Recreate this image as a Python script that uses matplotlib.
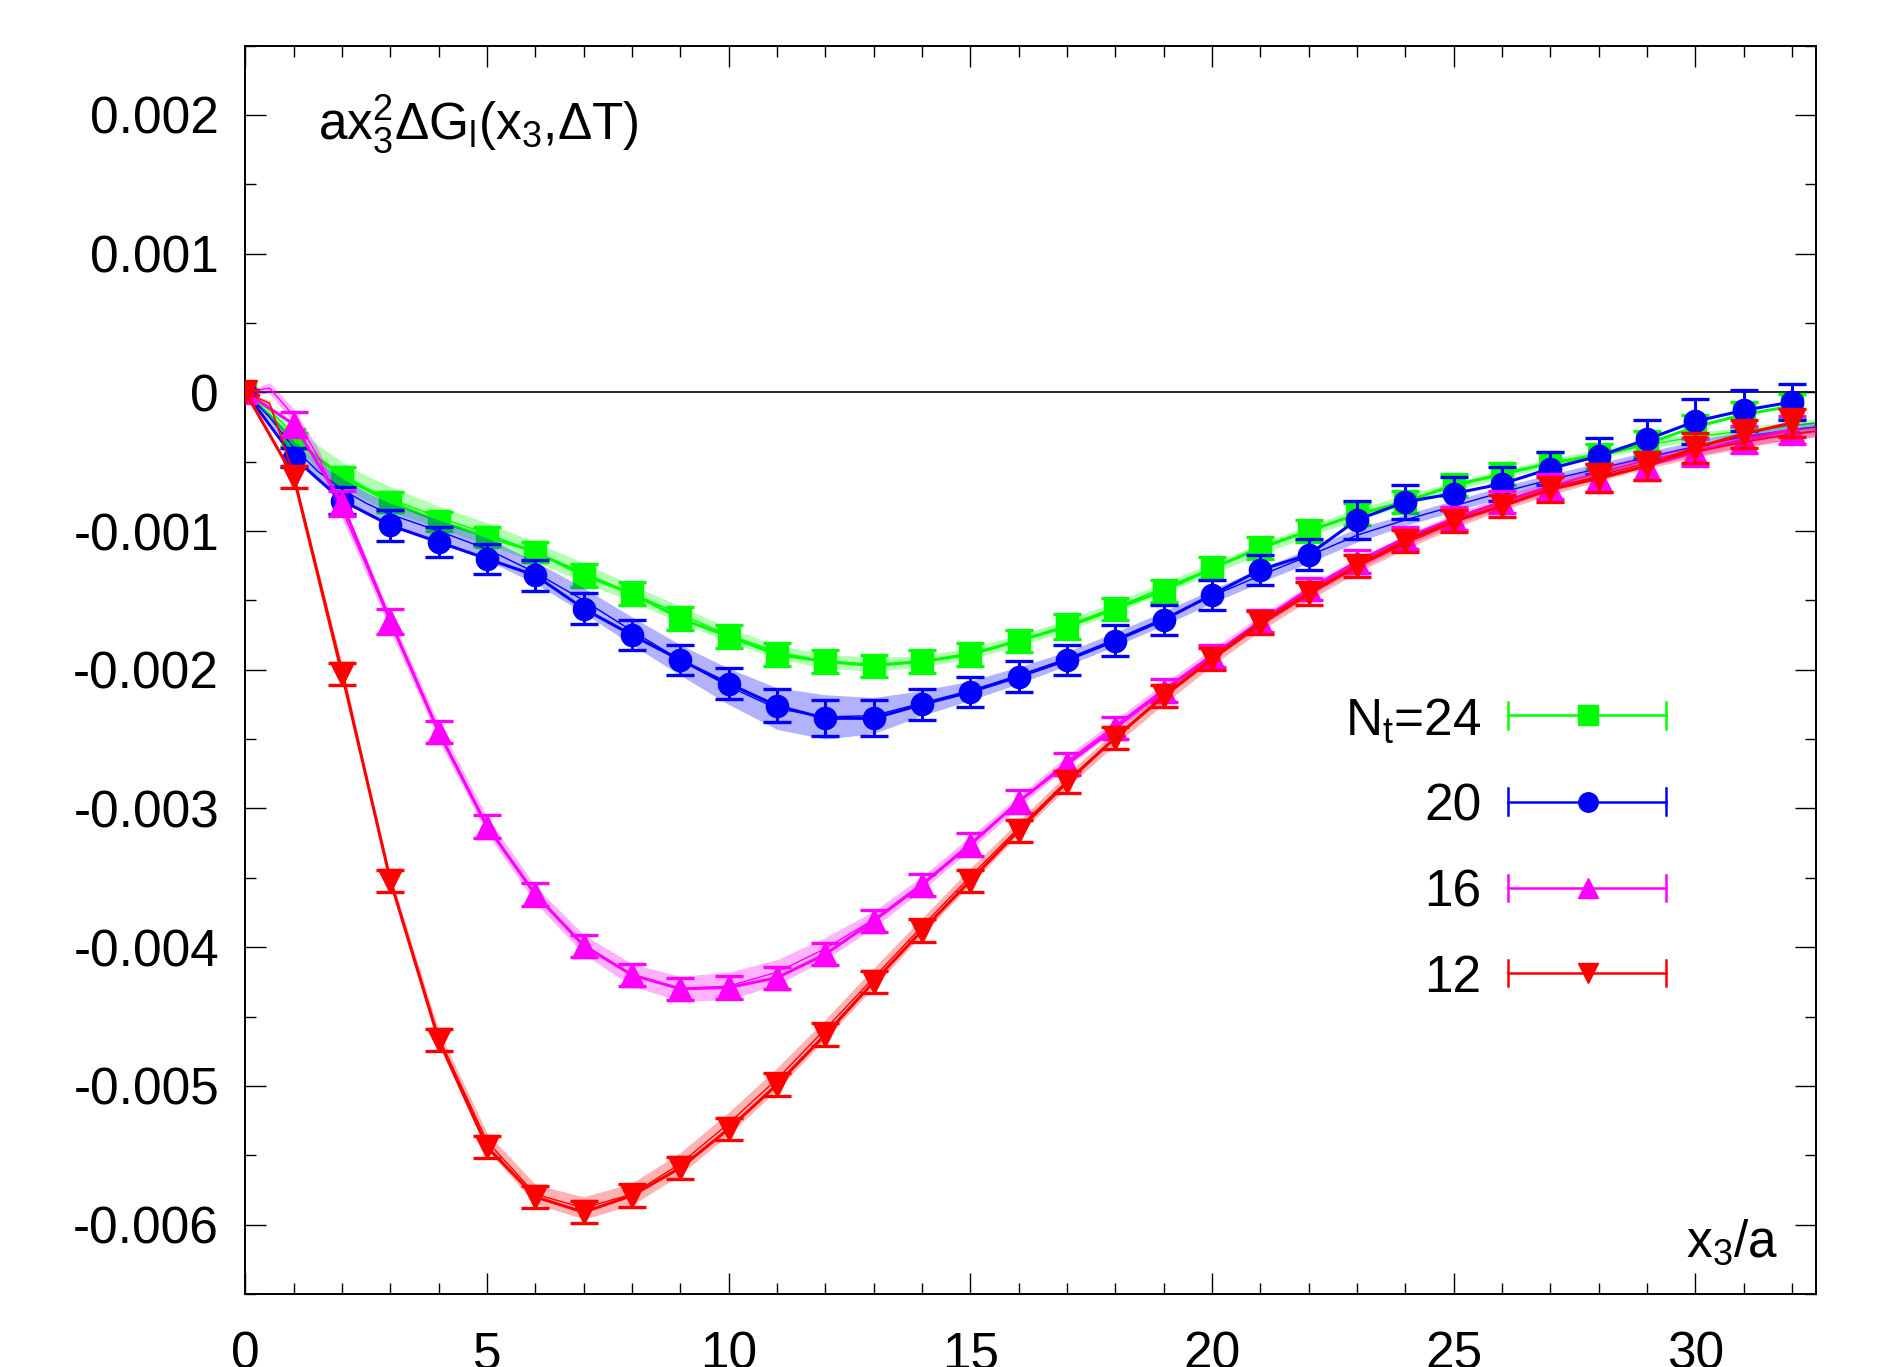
import numpy as np
import matplotlib
matplotlib.use('Agg')
import matplotlib.pyplot as plt
from matplotlib.ticker import MultipleLocator, FuncFormatter

plt.rcParams['font.family'] = ['Liberation Sans', 'DejaVu Sans']
plt.rcParams['mathtext.fontset'] = 'custom'
plt.rcParams['mathtext.rm'] = 'Liberation Sans'
plt.rcParams['mathtext.it'] = 'Liberation Sans'
plt.rcParams['mathtext.bf'] = 'Liberation Sans:bold'
plt.rcParams['axes.unicode_minus'] = False

# ---------------- data ----------------
x3 = list(range(33))

g24 = [0, -0.00034, -0.00061, -0.00079, -0.00093, -0.00104, -0.00115, -0.00132, -0.00145,
       -0.00163, -0.00176, -0.00189, -0.00194, -0.00197, -0.00194, -0.00189, -0.00179,
       -0.00169, -0.00156, -0.00143, -0.00127, -0.00112, -0.00100, -0.00088, -0.00079,
       -0.00067, -0.00059, -0.00051, -0.00046, -0.00037, -0.00025, -0.00016, -0.00010]
e24 = [0.00002, 0.00005, 0.00007, 0.00007, 0.00007, 0.00007, 0.00007, 0.00008, 0.00008,
       0.00008, 0.00008, 0.00008, 0.00008, 0.00008, 0.00008, 0.00008, 0.00008, 0.00009,
       0.00008, 0.00008, 0.00008, 0.00008, 0.00008, 0.00008, 0.00008, 0.00008, 0.00008,
       0.00008, 0.00009, 0.00009, 0.00009, 0.00009, 0.00009]

g20 = [0, -0.00047, -0.00078, -0.00096, -0.00108, -0.00120, -0.00132, -0.00156, -0.00175,
       -0.00193, -0.00210, -0.00226, -0.00235, -0.00235, -0.00225, -0.00216, -0.00205,
       -0.00193, -0.00179, -0.00164, -0.00146, -0.00128, -0.00117, -0.00092, -0.00079,
       -0.00073, -0.00066, -0.00055, -0.00046, -0.00034, -0.00021, -0.00013, -0.00007]
e20 = [0.00002, 0.00007, 0.00010, 0.00011, 0.00011, 0.00011, 0.00011, 0.00011, 0.00011,
       0.00011, 0.00011, 0.00012, 0.00013, 0.00013, 0.00011, 0.00011, 0.00011, 0.00011,
       0.00011, 0.00011, 0.00011, 0.00011, 0.00011, 0.00014, 0.00012, 0.00012, 0.00012,
       0.00012, 0.00013, 0.00014, 0.00016, 0.00015, 0.00013]

g16 = [0, -0.00023, -0.00080, -0.00165, -0.00245, -0.00313, -0.00362, -0.00399, -0.00420,
       -0.00430, -0.00429, -0.00422, -0.00405, -0.00381, -0.00355, -0.00326, -0.00295,
       -0.00268, -0.00242, -0.00215, -0.00190, -0.00165, -0.00142, -0.00122, -0.00105,
       -0.00091, -0.00079, -0.00068, -0.00062, -0.00053, -0.00043, -0.00034, -0.00027]
e16 = [0.00002, 0.00009, 0.00009, 0.00009, 0.00008, 0.00008, 0.00008, 0.00008, 0.00008,
       0.00008, 0.00008, 0.00008, 0.00008, 0.00008, 0.00008, 0.00008, 0.00008, 0.00008,
       0.00008, 0.00008, 0.00008, 0.00008, 0.00008, 0.00008, 0.00008, 0.00008, 0.00008,
       0.00009, 0.00010, 0.00010, 0.00010, 0.00010, 0.00010]

g12 = [0, -0.00061, -0.00203, -0.00352, -0.00467, -0.00544, -0.00580, -0.00591, -0.00579,
       -0.00559, -0.00531, -0.00499, -0.00463, -0.00425, -0.00388, -0.00352, -0.00316,
       -0.00281, -0.00249, -0.00219, -0.00192, -0.00166, -0.00145, -0.00125, -0.00107,
       -0.00093, -0.00082, -0.00070, -0.00062, -0.00053, -0.00040, -0.00030, -0.00022]
e12 = [0.00002, 0.00008, 0.00008, 0.00008, 0.00008, 0.00008, 0.00008, 0.00008, 0.00008,
       0.00008, 0.00008, 0.00008, 0.00008, 0.00008, 0.00008, 0.00008, 0.00008, 0.00008,
       0.00008, 0.00008, 0.00008, 0.00008, 0.00008, 0.00008, 0.00008, 0.00008, 0.00008,
       0.00009, 0.00010, 0.00010, 0.00011, 0.00010, 0.00010]

# fit bands (centre and half-width)
fit_x = [0, 0.5, 1, 1.5, 2, 2.5, 3, 4, 5, 6, 7, 8, 9, 10, 11, 12, 13, 14, 15, 16, 17, 18,
         19, 20, 21, 22, 23, 24, 25, 26, 27, 28, 29, 30, 31, 32, 32.5]

f24 = [0, -0.00013, -0.00030, -0.00047, -0.00059, -0.00069, -0.00077, -0.00090, -0.00102,
       -0.00115, -0.00130, -0.00145, -0.00160, -0.00175, -0.00187, -0.00194, -0.00196,
       -0.00194, -0.00188, -0.00179, -0.00168, -0.00155, -0.00141, -0.00127, -0.00113,
       -0.00100, -0.00088, -0.00078, -0.00068, -0.00059, -0.00051, -0.00044, -0.00038,
       -0.00032, -0.00028, -0.00024, -0.00022]
w24 = [0, 0.00003, 0.00006, 0.00009, 0.00009, 0.00009, 0.00009, 0.00008, 0.00008, 0.00007,
       0.00007, 0.00006, 0.00006, 0.00005, 0.00005, 0.00005, 0.00005, 0.00004, 0.00004,
       0.00004, 0.00004, 0.00004, 0.00004, 0.00004, 0.00004, 0.00004, 0.00004, 0.00004,
       0.00003, 0.00003, 0.00003, 0.00003, 0.00003, 0.00003, 0.00003, 0.00003, 0.00003]

f20 = [0, -0.00018, -0.00040, -0.00057, -0.00070, -0.00080, -0.00088, -0.00100, -0.00113,
       -0.00130, -0.00150, -0.00172, -0.00193, -0.00212, -0.00228, -0.00234, -0.00233,
       -0.00224, -0.00215, -0.00204, -0.00192, -0.00178, -0.00163, -0.00147, -0.00132,
       -0.00118, -0.00103, -0.00092, -0.00082, -0.00072, -0.00063, -0.00055, -0.00047,
       -0.00039, -0.00032, -0.00027, -0.00025]
w20 = [0, 0.00003, 0.00005, 0.00007, 0.00008, 0.00008, 0.00008, 0.00008, 0.00008, 0.00008,
       0.00009, 0.00010, 0.00011, 0.00013, 0.00015, 0.00016, 0.00013, 0.00009, 0.00007,
       0.00006, 0.00005, 0.00005, 0.00005, 0.00005, 0.00005, 0.00005, 0.00005, 0.00004,
       0.00004, 0.00004, 0.00004, 0.00004, 0.00004, 0.00004, 0.00004, 0.00004, 0.00004]

f16 = [0, 0.00003, -0.00017, -0.00046, -0.00085, -0.00125, -0.00166, -0.00245, -0.00312,
       -0.00362, -0.00398, -0.00420, -0.00430, -0.00428, -0.00418, -0.00401, -0.00380,
       -0.00354, -0.00325, -0.00295, -0.00266, -0.00240, -0.00214, -0.00189, -0.00165,
       -0.00143, -0.00124, -0.00107, -0.00092, -0.00079, -0.00068, -0.00058, -0.00049,
       -0.00042, -0.00035, -0.00030, -0.00028]
w16 = [0, 0.00004, 0.00005, 0.00006, 0.00006, 0.00006, 0.00006, 0.00006, 0.00006, 0.00006,
       0.00007, 0.00008, 0.00009, 0.00010, 0.00009, 0.00008, 0.00006, 0.00005, 0.00005,
       0.00004, 0.00004, 0.00004, 0.00004, 0.00004, 0.00004, 0.00004, 0.00004, 0.00004,
       0.00004, 0.00004, 0.00004, 0.00004, 0.00004, 0.00004, 0.00004, 0.00004, 0.00004]

f12 = [0, -0.00008, -0.00060, -0.00130, -0.00200, -0.00278, -0.00352, -0.00465, -0.00540,
       -0.00578, -0.00588, -0.00578, -0.00556, -0.00527, -0.00495, -0.00459, -0.00422,
       -0.00385, -0.00349, -0.00314, -0.00280, -0.00249, -0.00220, -0.00193, -0.00168,
       -0.00146, -0.00126, -0.00109, -0.00094, -0.00081, -0.00070, -0.00060, -0.00051,
       -0.00043, -0.00036, -0.00030, -0.00028]
w12 = [0, 0.00002, 0.00003, 0.00003, 0.00004, 0.00004, 0.00004, 0.00005, 0.00006, 0.00007,
       0.00008, 0.00008, 0.00008, 0.00008, 0.00008, 0.00007, 0.00007, 0.00006, 0.00006,
       0.00005, 0.00005, 0.00005, 0.00005, 0.00004, 0.00004, 0.00004, 0.00004, 0.00004,
       0.00004, 0.00004, 0.00004, 0.00004, 0.00004, 0.00004, 0.00004, 0.00004, 0.00004]

legend_labels = [r'N$_\mathrm{t}$=24', '20', '16', '12']
colors = ['#00ff00', '#0000ff', '#ff00ff', '#ff0000']
markers = ['s', 'o', '^', 'v']

series = [(g24, e24, f24, w24), (g20, e20, f20, w20), (g16, e16, f16, w16), (g12, e12, f12, w12)]

# ---------------- figure ----------------
fig = plt.figure(figsize=(18.78, 13.67), dpi=100)
ax = fig.add_axes([0.1307, 0.0534, 0.8363, 0.9133])

ax.axhline(0, color='black', lw=1.2, zorder=1)

fx = np.array(fit_x)
for k, (d, e, f, w) in enumerate(series):
    c = colors[k]
    f = np.array(f)
    w = np.array(w)
    z = 2 + k * 3
    ax.fill_between(fx, f - w, f + w, color=c, alpha=0.3, lw=0, zorder=z)
    ax.plot(fx, f, color=c, lw=1.0, zorder=z + 0.5)
    ms = 16 if markers[k] in ('s', 'o') else 17
    ax.errorbar(x3, d, yerr=e, color=c, marker=markers[k], ms=ms, lw=2.2,
                elinewidth=2.2, capsize=10, capthick=2.4, zorder=z + 1)

ax.set_xlim(0, 32.5)
ax.set_ylim(-0.0065, 0.0025)
ax.xaxis.set_major_locator(MultipleLocator(5))
ax.xaxis.set_minor_locator(MultipleLocator(1))
ax.yaxis.set_major_locator(MultipleLocator(0.001))
ax.yaxis.set_minor_locator(MultipleLocator(0.0005))


def yfmt(v, pos):
    if abs(v) < 1e-12:
        return '0'
    return '%.3f' % v


ax.yaxis.set_major_formatter(FuncFormatter(yfmt))
ax.tick_params(which='both', direction='in', top=True, right=True, width=1.0,
               labelsize=37, colors='black')
ax.tick_params(which='major', length=15)
ax.tick_params(which='minor', length=8)
ax.tick_params(axis='y', which='major', pad=19)
ax.tick_params(axis='x', which='major', pad=26)
for lbl in ax.get_xticklabels():
    lbl.set_x(lbl.get_position()[0])
for s in ax.spines.values():
    s.set_linewidth(1.4)

# annotations
ax.text(0.0464, 0.9243, r'a$\mathrm{x_3^2}$$\Delta$G$_\mathrm{l}$(x$_\mathrm{3}$,$\Delta$T)',
        transform=ax.transAxes, fontsize=37, ha='left', va='baseline')
ax.text(0.976, 0.0297, r'x$_\mathrm{3}$/a', transform=ax.transAxes, fontsize=37,
        ha='right', va='baseline')

# legend drawn in axes coordinates
rows = [0.4635, 0.3944, 0.3253, 0.2572]
lx0, lx1, lxm, ltx = 0.804, 0.9047, 0.855, 0.787
capk = 0.0106
for k in range(4):
    yy = rows[k]
    c = colors[k]
    ax.plot([lx0, lx1], [yy, yy], color=c, lw=1.8, transform=ax.transAxes, clip_on=False, zorder=20)
    ax.plot([lx0, lx0], [yy - capk, yy + capk], color=c, lw=1.8, transform=ax.transAxes, zorder=20)
    ax.plot([lx1, lx1], [yy - capk, yy + capk], color=c, lw=1.8, transform=ax.transAxes, zorder=20)
    ax.plot([lxm], [yy], color=c, marker=markers[k], ms=14, transform=ax.transAxes, zorder=21)
    ax.text(ltx, yy, legend_labels[k], transform=ax.transAxes, fontsize=37,
            ha='right', va='center_baseline')

fig.savefig('out.png', dpi=100)
